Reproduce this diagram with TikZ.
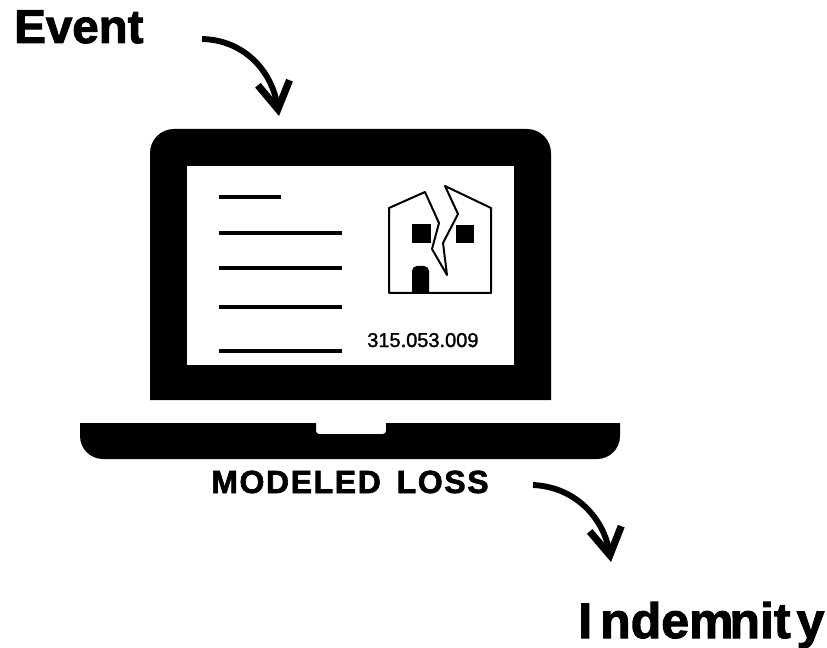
\documentclass[tikz,border=0pt]{standalone}
\usepackage{fontspec}
\setmainfont{Liberation Sans}
\usetikzlibrary{arrows.meta}
\tikzset{
	textline/.style={line width=2.6pt},
	houseline/.style={line width=1.5pt, line join=round},
	bigarrow/.style={line width=4.4pt, -{Straight Barb[length=20pt,width=24pt,line width=5.4pt]}},
	biglabel/.style={anchor=base west, inner sep=0pt, font=\fontsize{35.6}{40}\bfseries\addfontfeature{FakeBold=2}},
	loss/.style={anchor=base west, inner sep=0pt, font=\fontsize{24}{28}\bfseries\addfontfeature{FakeBold=2,LetterSpace=5}},
	amount/.style={anchor=base west, inner sep=0pt, font=\fontsize{15}{18}\selectfont\addfontfeature{FakeBold=1.5}}
}
\begin{document}
\begin{tikzpicture}[x=0.75pt, y=-0.75pt]
		\useasboundingbox (0,0) rectangle (827,648);

		% laptop
		\fill (150,400) -- (150,153) arc [start angle=180, end angle=270, radius=24] -- (527,129) arc [start angle=270, end angle=360, radius=24] -- (551,400) -- cycle;
		\fill [white] (187,166) rectangle (514,365);
		\fill (80,423) -- (316,423) -- (316,431) arc [start angle=180, end angle=90, radius=3] -- (383,434) arc [start angle=90, end angle=0, radius=3] -- (386,423) -- (620,423) -- (620,436) arc [start angle=0, end angle=90, radius=23] -- (103,459) arc [start angle=90, end angle=180, radius=23] -- cycle;

		% lines on the screen
		\draw [textline] (219,197) -- (281,197);
		\foreach \y in {233,268,307,351}
			\draw [textline] (219,\y) -- (342,\y);

		% house
		\draw [houseline] (425,192) -- (389,208) -- (389,293) -- (491,293) -- (491,208) -- (445,186) -- (458,214) -- (443,243) -- (447,275) -- (432,249) -- (439,223) -- cycle;
		\fill (412,224) rectangle (431,243);
		\fill (456,225) rectangle (474,243);
		\fill (412,293) -- (412,271) arc [start angle=180, end angle=270, radius=5] -- (424,266) arc [start angle=270, end angle=360, radius=5] -- (429,293) -- cycle;

		\node [amount] (value) at (367,347) {315.053.009};
		\node [loss] (modeled) at (211,493) {MODELED\kern4pt\ LOSS};
		\node [biglabel] (event) at (14,43) {Event};
		\node [biglabel, font=\fontsize{37.5}{42}\bfseries\addfontfeature{FakeBold=2}] (indemnity) at (578,638) {I\kern6pt ndem\kern-3pt nit\kern4.5pt y};

		\coordinate (eventstart) at (202,39);
		\coordinate (eventend) at (279,116);
		\coordinate (lossstart) at (533,485);
		\coordinate (lossend) at (611,562);

		\draw [bigarrow] (eventstart) .. controls (245,40) and (272,72) .. (eventend);
		\draw [bigarrow] (lossstart) .. controls (577,487) and (604,520) .. (lossend);
	\end{tikzpicture}
\end{document}
